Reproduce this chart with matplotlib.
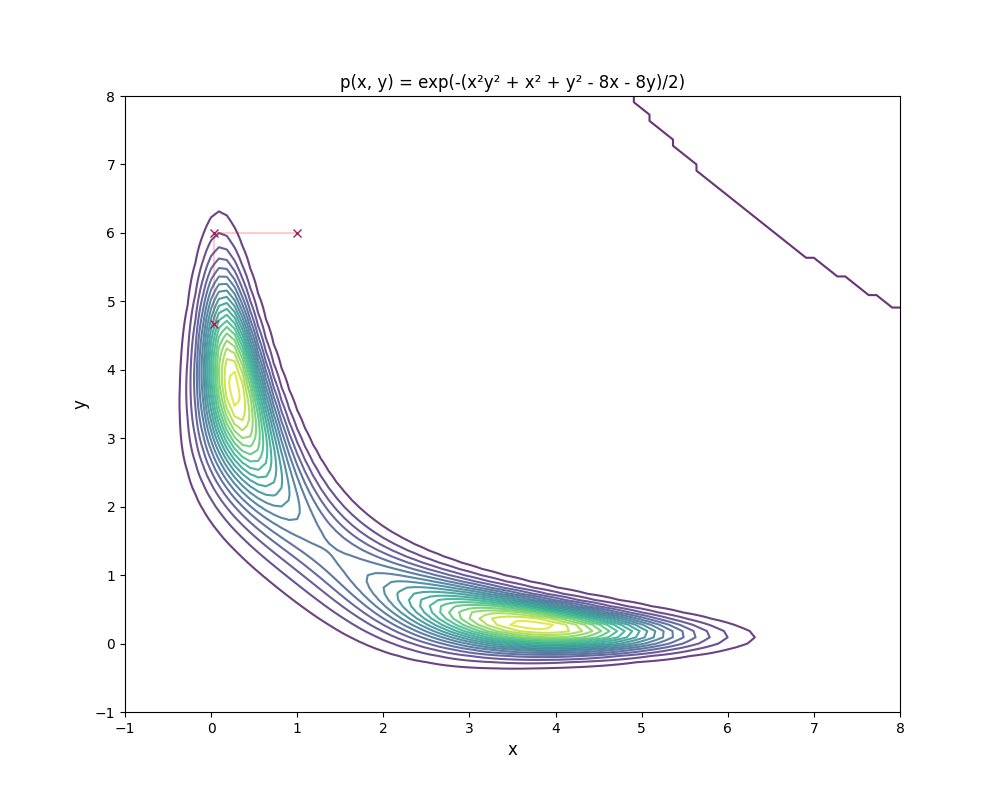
import numpy as np
import matplotlib
matplotlib.use("Agg")
import matplotlib.pyplot as plt

# grid limits for the density
x_range = (-1, 8)
y_range = (-1, 8)
n_grid = 100

# sampler trajectory
sample_x = [1.0, 0.03, 0.03]
sample_y = [6.0, 6.0, 4.67]


def p(x, y):
    return np.exp(-(x**2 * y**2 + x**2 + y**2 - 8 * x - 8 * y) / 2)


xg = np.linspace(*x_range, n_grid)
yg = np.linspace(*y_range, n_grid)
X, Y = np.meshgrid(xg, yg)
Z = p(X, Y)

fig = plt.figure(figsize=(10, 8))
ax = fig.add_subplot(111)
ax.contour(X, Y, Z, levels=20, cmap='viridis', alpha=0.8, linewidths=1.5)
ax.plot(sample_x, sample_y, color='red', alpha=0.2)
ax.plot(sample_x, sample_y, 'x', color='#a3205a')
ax.set_xlim(*x_range)
ax.set_ylim(*y_range)
ax.set_xlabel('x', fontsize=12)
ax.set_ylabel('y', fontsize=12)
ax.set_title('p(x, y) = exp(-(x²y² + x² + y² - 8x - 8y)/2)')
fig.savefig('out.png')
